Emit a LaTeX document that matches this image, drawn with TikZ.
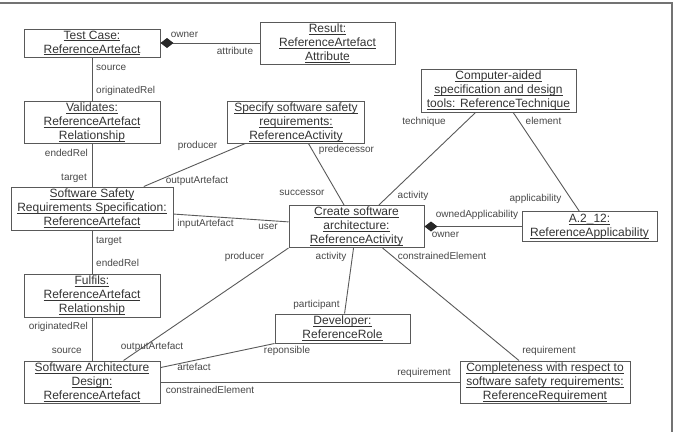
\documentclass[tikz,border=0pt]{standalone}
\usepackage{fontspec}
\setmainfont{Liberation Sans}
\usetikzlibrary{arrows.meta}
\newcommand\uln[1]{\underline{\raisebox{0pt}[\height][0pt]{#1}}}
\begin{document}
\begin{tikzpicture}[x=1pt,y=-1pt,
  obj/.style={draw=black!65, line width=1pt, text=black!80, align=center,
    font=\fontsize{12}{14}\selectfont, inner sep=0pt},
  lbl/.style={text=black!72, font=\fontsize{10}{12}\selectfont, inner sep=0pt,
    text height=7pt, text depth=2pt},
  conn/.style={draw=black!65, line width=0.9pt},
  comp/.style={conn, {Diamond[length=13pt,width=10pt,color=black!85,fill=black!85]}-}]

\useasboundingbox (0,0) rectangle (675,432);
\draw[black!55, line width=1.5pt] (0,3) -- (672,3) -- (672,432);

% objects
\node[obj, minimum width=136pt, minimum height=28pt] (tc) at (92,43)
  {\uln{Test Case:}\\\uln{ReferenceArtefact}};
\node[obj, minimum width=135pt, minimum height=42pt] (res) at (327.5,43)
  {\uln{Result:}\\\uln{ReferenceArtefact}\\\uln{Attribute}};
\node[obj, minimum width=136pt, minimum height=42pt] (val) at (92,122)
  {\uln{Validates:}\\\uln{ReferenceArtefact}\\\uln{Relationship}};
\node[obj, minimum width=137pt, minimum height=42pt] (spec) at (296,122)
  {\uln{Specify software safety}\\\uln{requirements:}\\\uln{ReferenceActivity}};
\node[obj, minimum width=162pt, minimum height=43pt] (ssrs) at (92,208.5)
  {\uln{Software Safety}\\\uln{Requirements Specification:}\\\uln{ReferenceArtefact}};
\node[obj, minimum width=136pt, minimum height=43pt] (ful) at (92,295.5)
  {\uln{Fulfils:}\\\uln{ReferenceArtefact}\\\uln{Relationship}};
\node[obj, minimum width=136pt, minimum height=42pt] (sad) at (92,382)
  {\uln{Software Architecture}\\\uln{Design:}\\\uln{ReferenceArtefact}};
\node[obj, minimum width=135pt, minimum height=42pt] (create) at (356.5,226.5)
  {\uln{Create software}\\\uln{architecture:}\\\uln{ReferenceActivity}};
\node[obj, minimum width=155pt, minimum height=43pt] (cad) at (498.5,90.5)
  {\uln{Computer-aided}\\\uln{specification and design}\\\uln{tools: ReferenceTechnique}};
\node[obj, minimum width=135pt, minimum height=30pt] (app) at (589.5,226.5)
  {\uln{A.2\_12:}\\\uln{ReferenceApplicability}};
\node[obj, minimum width=135pt, minimum height=29pt] (dev) at (342.5,328.5)
  {\uln{Developer:}\\\uln{ReferenceRole}};
\node[obj, minimum width=170pt, minimum height=42pt] (req) at (545,382)
  {\uln{Completeness with respect to}\\\uln{software safety requirements:}\\\uln{ReferenceRequirement}};

% connectors
\draw[comp] (tc) -- (res);
\draw[conn] (tc) -- (val);
\draw[conn] (val) -- (ssrs);
\draw[conn] (spec) -- (ssrs);
\draw[conn] (spec) -- (create);
\draw[conn] (ssrs) -- (create);
\draw[conn] (ssrs) -- (ful);
\draw[conn] (ful) -- (sad);
\draw[conn] (cad) -- (create);
\draw[conn] (cad) -- (app);
\draw[comp] (create) -- (app);
\draw[conn] (create.south west) -- (sad);
\draw[conn] (create) -- (dev);
\draw[conn] (create) -- (req);
\draw[conn] (dev.south west) -- (sad);
\draw[conn] (sad) -- (req);

% labels
\node[lbl] (l1) at (184.5,35) {owner};
\node[lbl] (l2) at (235,52) {attribute};
\node[lbl, anchor=west] (l3) at (96,68) {source};
\node[lbl, anchor=west] (l4) at (96,91) {originatedRel};
\node[lbl, anchor=east] (l5) at (88,154) {endedRel};
\node[lbl, anchor=east] (l6) at (87,178) {target};
\node[lbl] (l7) at (197.5,146) {producer};
\node[lbl] (l8) at (197,181) {outputArtefact};
\node[lbl] (l9) at (346.5,150) {predecessor};
\node[lbl] (l10) at (302,193) {successor};
\node[lbl] (l11) at (424,122) {technique};
\node[lbl] (l12) at (543.5,122) {element};
\node[lbl] (l13) at (413,196) {activity};
\node[lbl] (l14) at (535.5,199) {applicability};
\node[lbl] (l15) at (477,215) {ownedApplicability};
\node[lbl] (l16) at (445.5,235) {owner};
\node[lbl] (l17) at (205.5,224) {inputArtefact};
\node[lbl] (l18) at (268,227) {user};
\node[lbl, anchor=west] (l19) at (96,241) {target};
\node[lbl, anchor=west] (l20) at (96,264) {endedRel};
\node[lbl] (l21) at (244.5,257) {producer};
\node[lbl] (l22) at (331,257) {activity};
\node[lbl] (l23) at (442,257) {constrainedElement};
\node[lbl] (l24) at (316.5,305) {participant};
\node[lbl, anchor=east] (l25) at (88,327) {originatedRel};
\node[lbl, anchor=east] (l26) at (82,351) {source};
\node[lbl] (l27) at (152,347) {outputArtefact};
\node[lbl] (l28) at (287,351) {reponsible};
\node[lbl] (l29) at (194,368) {artefact};
\node[lbl] (l30) at (210,391) {constrainedElement};
\node[lbl] (l31) at (424,373) {requirement};
\node[lbl] (l32) at (549,351) {requirement};
\end{tikzpicture}
\end{document}
